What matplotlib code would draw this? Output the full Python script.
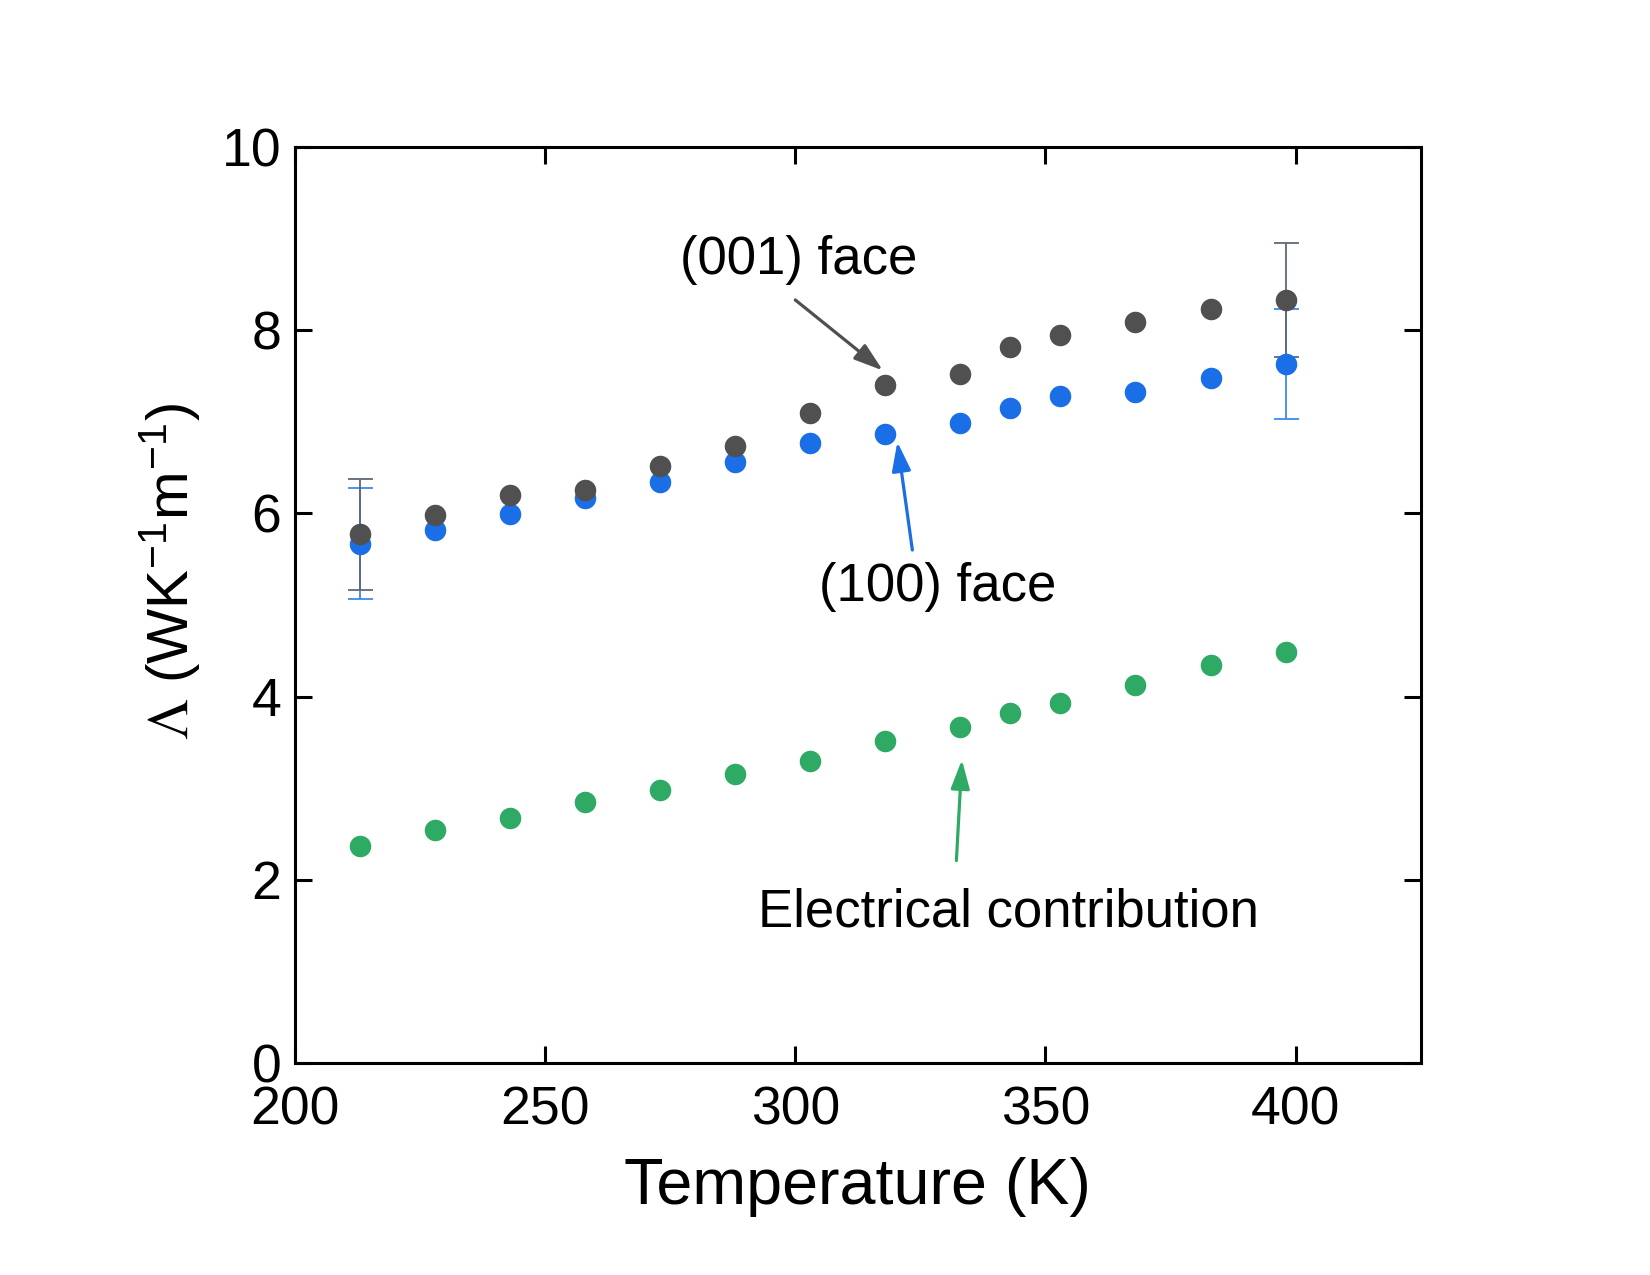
import matplotlib
matplotlib.use("Agg")
import matplotlib.pyplot as plt

plt.rcParams['font.family'] = ['Liberation Sans', 'DejaVu Sans']
plt.rcParams['mathtext.fontset'] = 'stix'

temperature = [213, 228, 243, 258, 273, 288, 303, 318, 333, 343, 353, 368, 383, 398]
face_001 = [5.77, 5.98, 6.20, 6.25, 6.52, 6.74, 7.10, 7.40, 7.52, 7.82, 7.95, 8.09, 8.23, 8.33]
face_100 = [5.67, 5.82, 5.99, 6.17, 6.34, 6.56, 6.77, 6.87, 6.99, 7.15, 7.28, 7.33, 7.48, 7.63]
electrical = [2.37, 2.54, 2.67, 2.85, 2.98, 3.16, 3.30, 3.52, 3.67, 3.82, 3.93, 4.13, 4.34, 4.49]

err_T = [213, 398]
err_001 = [5.77, 8.33]
err_001_size = [0.61, 0.62]
err_100 = [5.67, 7.63]
err_100_size = [0.61, 0.60]

# annotation labels and arrow (tail, head) in data units
labels = ['(001) face', '(100) face', 'Electrical contribution']
label_pos = [(300.6, 8.77), (328.4, 5.20), (342.7, 1.64)]
arrow_tail = [(300.0, 8.33), (323.4, 5.60), (332.2, 2.21)]
arrow_head = [(317.5, 7.56), (320.4, 6.78), (333.3, 3.31)]

c_gray = '#505050'
c_blue = '#1a6ee6'
c_green = '#2eaa64'

fig = plt.figure(figsize=(16.5, 12.75), dpi=100)
ax = fig.add_axes([0.1788, 0.1663, 0.861 - 0.1788, 0.8847 - 0.1663])

ax.errorbar(err_T, err_100, yerr=err_100_size, fmt='none', ecolor='#3a8af0',
            elinewidth=1.3, capsize=9, capthick=1.3, zorder=2)
ax.errorbar(err_T, err_001, yerr=err_001_size, fmt='none', ecolor='#606878',
            elinewidth=1.3, capsize=9, capthick=1.3, zorder=2)

ax.plot(temperature, electrical, 'o', color=c_green, ms=15.5, mew=0, zorder=3)
ax.plot(temperature, face_100, 'o', color=c_blue, ms=15.5, mew=0, zorder=3)
ax.plot(temperature, face_001, 'o', color=c_gray, ms=15.5, mew=0, zorder=4)

ax.set_xlim(200, 425)
ax.set_ylim(0, 10)
ax.set_xticks([200, 250, 300, 350, 400])
ax.set_yticks([0, 2, 4, 6, 8, 10])

for s in ax.spines.values():
    s.set_linewidth(2.2)
ax.tick_params(direction='in', length=12, width=2.2, labelsize=38.5,
               top=True, right=True)
ax.tick_params(axis='x', pad=16)
ax.tick_params(axis='y', pad=10)

ax.set_xlabel('Temperature (K)', fontsize=46.5, labelpad=16)
ax.set_ylabel(r'$\Lambda$ (WK$^{\mathregular{-1}}$m$^{\mathregular{-1}}$)',
              fontsize=42)
ax.yaxis.set_label_coords(-0.082, 0.537)

colors = [c_gray, c_blue, c_green]
for lab, pos, tail, head, col in zip(labels, label_pos, arrow_tail, arrow_head, colors):
    ax.text(pos[0], pos[1], lab, fontsize=38, ha='center', va='center')
    ax.annotate('', xy=head, xytext=tail,
                arrowprops=dict(arrowstyle='-|>,head_length=0.55,head_width=0.18',
                                mutation_scale=32, color=col, lw=2.3,
                                shrinkA=0, shrinkB=0))

fig.savefig('out.png', dpi=100)
